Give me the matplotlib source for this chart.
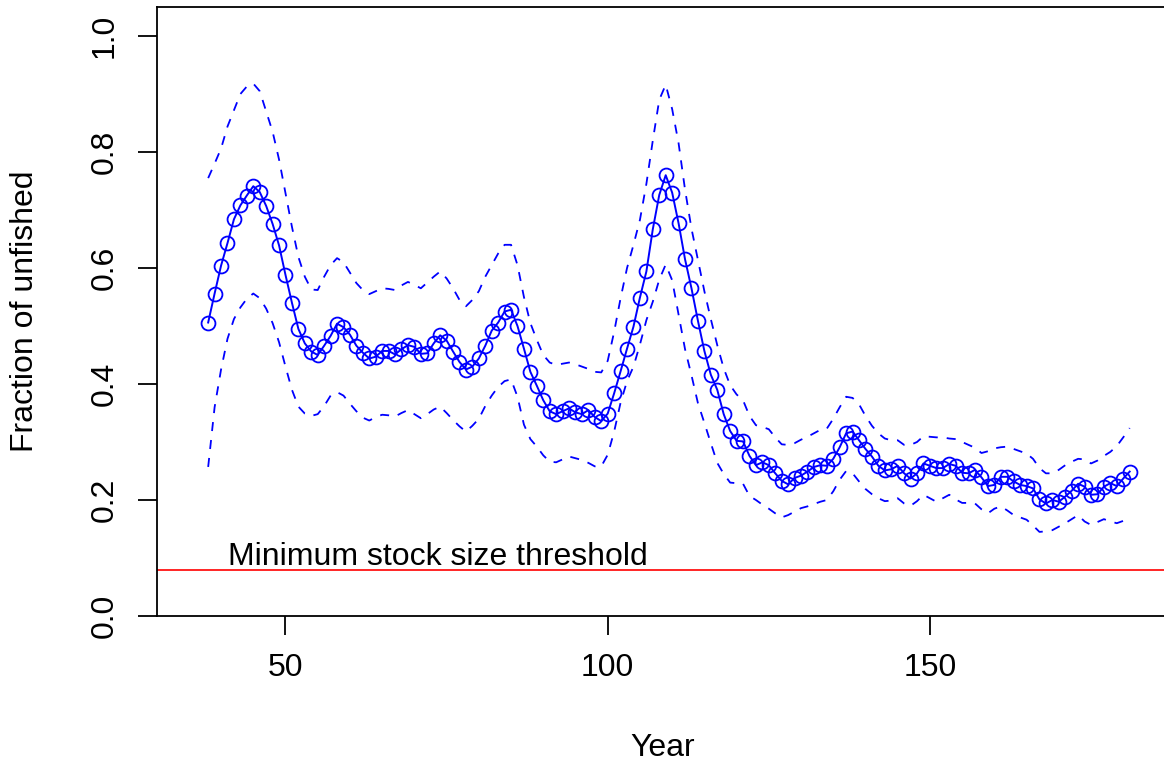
import matplotlib
matplotlib.use("Agg")
import matplotlib.pyplot as plt
import numpy as np

plt.rcParams['font.family'] = ['Liberation Sans', 'DejaVu Sans']

years = list(range(38, 182))

fraction = [
    0.506, 0.556, 0.604, 0.643, 0.684, 0.708, 0.725, 0.741, 0.731, 0.707,
    0.676, 0.639, 0.588, 0.540, 0.495, 0.470, 0.456, 0.450, 0.466, 0.483,
    0.504, 0.498, 0.485, 0.466, 0.454, 0.444, 0.447, 0.457, 0.457, 0.451,
    0.460, 0.467, 0.464, 0.452, 0.453, 0.470, 0.484, 0.475, 0.456, 0.438,
    0.425, 0.430, 0.444, 0.466, 0.492, 0.506, 0.525, 0.528, 0.500, 0.461,
    0.421, 0.397, 0.372, 0.353, 0.348, 0.353, 0.358, 0.351, 0.348, 0.355,
    0.343, 0.336, 0.349, 0.384, 0.422, 0.461, 0.499, 0.549, 0.594, 0.667,
    0.726, 0.760, 0.730, 0.677, 0.615, 0.565, 0.509, 0.457, 0.416, 0.390,
    0.348, 0.319, 0.302, 0.301, 0.276, 0.260, 0.265, 0.260, 0.246, 0.233,
    0.227, 0.238, 0.242, 0.249, 0.257, 0.260, 0.259, 0.271, 0.291, 0.315,
    0.318, 0.303, 0.288, 0.275, 0.259, 0.251, 0.253, 0.259, 0.246, 0.237,
    0.246, 0.263, 0.259, 0.255, 0.255, 0.262, 0.259, 0.247, 0.246, 0.252,
    0.239, 0.224, 0.226, 0.240, 0.240, 0.232, 0.226, 0.224, 0.220, 0.201,
    0.194, 0.200, 0.197, 0.206, 0.216, 0.228, 0.223, 0.209, 0.210, 0.223,
    0.229, 0.224, 0.237, 0.249,
]

upper = [
    0.755, 0.780, 0.806, 0.844, 0.872, 0.900, 0.913, 0.918, 0.905, 0.870,
    0.835, 0.787, 0.729, 0.671, 0.619, 0.585, 0.563, 0.562, 0.585, 0.605,
    0.617, 0.610, 0.592, 0.574, 0.562, 0.555, 0.560, 0.565, 0.564, 0.562,
    0.570, 0.576, 0.571, 0.565, 0.575, 0.585, 0.594, 0.582, 0.565, 0.545,
    0.534, 0.545, 0.560, 0.585, 0.605, 0.625, 0.640, 0.640, 0.605, 0.550,
    0.505, 0.476, 0.450, 0.437, 0.433, 0.435, 0.437, 0.434, 0.430, 0.426,
    0.421, 0.420, 0.440, 0.490, 0.548, 0.600, 0.640, 0.683, 0.745, 0.820,
    0.890, 0.916, 0.874, 0.815, 0.735, 0.668, 0.614, 0.560, 0.512, 0.467,
    0.427, 0.398, 0.382, 0.372, 0.345, 0.329, 0.326, 0.322, 0.308, 0.296,
    0.295, 0.298, 0.304, 0.309, 0.315, 0.321, 0.323, 0.340, 0.360, 0.378,
    0.376, 0.365, 0.345, 0.328, 0.315, 0.306, 0.303, 0.303, 0.295, 0.295,
    0.300, 0.310, 0.309, 0.308, 0.308, 0.306, 0.305, 0.300, 0.295, 0.290,
    0.281, 0.284, 0.289, 0.291, 0.292, 0.288, 0.284, 0.280, 0.271, 0.255,
    0.246, 0.246, 0.252, 0.260, 0.266, 0.271, 0.270, 0.263, 0.268, 0.276,
    0.283, 0.293, 0.308, 0.324,
]

lower = [
    0.257, 0.360, 0.425, 0.478, 0.512, 0.532, 0.547, 0.556, 0.548, 0.530,
    0.505, 0.472, 0.430, 0.390, 0.361, 0.349, 0.345, 0.348, 0.362, 0.380,
    0.386, 0.380, 0.366, 0.353, 0.342, 0.337, 0.343, 0.347, 0.346, 0.344,
    0.350, 0.355, 0.348, 0.341, 0.348, 0.356, 0.361, 0.350, 0.338, 0.327,
    0.318, 0.328, 0.340, 0.362, 0.380, 0.395, 0.405, 0.408, 0.378, 0.330,
    0.305, 0.292, 0.277, 0.266, 0.265, 0.270, 0.275, 0.272, 0.269, 0.264,
    0.258, 0.258, 0.278, 0.318, 0.368, 0.405, 0.430, 0.468, 0.510, 0.542,
    0.580, 0.606, 0.579, 0.520, 0.460, 0.415, 0.367, 0.333, 0.298, 0.264,
    0.245, 0.230, 0.229, 0.228, 0.207, 0.200, 0.192, 0.185, 0.177, 0.170,
    0.174, 0.180, 0.186, 0.189, 0.193, 0.197, 0.200, 0.215, 0.235, 0.250,
    0.246, 0.232, 0.219, 0.210, 0.203, 0.198, 0.199, 0.203, 0.194, 0.190,
    0.198, 0.209, 0.203, 0.197, 0.203, 0.209, 0.201, 0.195, 0.195, 0.194,
    0.184, 0.177, 0.185, 0.189, 0.182, 0.174, 0.170, 0.166, 0.156, 0.145,
    0.146, 0.148, 0.154, 0.160, 0.167, 0.174, 0.163, 0.157, 0.162, 0.167,
    0.163, 0.160, 0.164, 0.169,
]

threshold = 0.079
threshold_label = "Minimum stock size threshold"
x_ticks = [50, 100, 150]
y_ticks = [0.0, 0.2, 0.4, 0.6, 0.8, 1.0]

W, H = 1164, 765
fig = plt.figure(figsize=(W / 100, H / 100), dpi=100)
left_px, right_px, top_px, bottom_px = 157, 1169, 7, 616
ax = fig.add_axes([left_px / W, 1 - bottom_px / H,
                   (right_px - left_px) / W, (bottom_px - top_px) / H])

blue = "#0000FF"
ax.plot(years, upper, color=blue, lw=1.3, dashes=(5, 5))
ax.plot(years, lower, color=blue, lw=1.3, dashes=(5, 5))
ax.plot(years, fraction, color=blue, lw=1.4, marker='o', markersize=10,
        markerfacecolor='none', markeredgecolor=blue, markeredgewidth=1.3)
ax.axhline(threshold, color="#FF0000", lw=1.2)
ax.text(41.1, threshold + 0.009, threshold_label, fontsize=23,
        ha='left', va='baseline', color='black')

ax.set_xlim(30.06, 187.1)
ax.set_ylim(0, 1.05)
ax.set_xticks(x_ticks)
ax.set_xticklabels([str(v) for v in x_ticks])
ax.set_yticks(y_ticks)
ax.set_yticklabels([f"{v:.1f}" for v in y_ticks], rotation=90, va='center')
ax.tick_params(axis='both', direction='out', length=14, width=1.3,
               labelsize=23, pad=13)
for s in ['left', 'bottom', 'top']:
    ax.spines[s].set_linewidth(1.3)
ax.spines['right'].set_visible(False)

fig.text(663 / W, 1 - 748 / H, "Year", ha='center', va='center', fontsize=23)
fig.text(25 / W, 1 - 311 / H, "Fraction of unfished", ha='center',
         va='center', rotation=90, fontsize=23)

fig.savefig("out.png", dpi=100)
